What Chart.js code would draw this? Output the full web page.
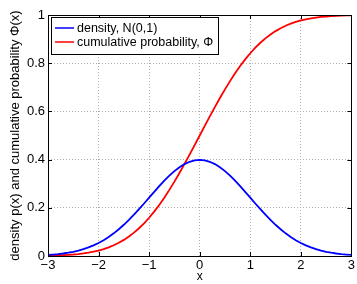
<!DOCTYPE html>
<html><head><meta charset="utf-8">
<script src="https://cdn.jsdelivr.net/npm/chart.js@4"></script>
<style>html,body{margin:0;padding:0;background:#fff}#c{display:block}</style>
</head><body>
<canvas id="c" width="357" height="284"></canvas>
<script>
const xValues = [-3.0,-2.9,-2.8,-2.7,-2.6,-2.5,-2.4,-2.3,-2.2,-2.1,-2.0,-1.9,-1.8,-1.7,-1.6,-1.5,-1.4,-1.3,-1.2,-1.1,-1.0,-0.9,-0.8,-0.7,-0.6,-0.5,-0.4,-0.3,-0.2,-0.1,0.0,0.1,0.2,0.3,0.4,0.5,0.6,0.7,0.8,0.9,1.0,1.1,1.2,1.3,1.4,1.5,1.6,1.7,1.8,1.9,2.0,2.1,2.2,2.3,2.4,2.5,2.6,2.7,2.8,2.9,3.0];
const densityValues = [0.0044,0.0060,0.0079,0.0104,0.0136,0.0175,0.0224,0.0283,0.0355,0.0440,0.0540,0.0656,0.0790,0.0940,0.1109,0.1295,0.1497,0.1714,0.1942,0.2179,0.2420,0.2661,0.2897,0.3123,0.3332,0.3521,0.3683,0.3814,0.3910,0.3970,0.3989,0.3970,0.3910,0.3814,0.3683,0.3521,0.3332,0.3123,0.2897,0.2661,0.2420,0.2179,0.1942,0.1714,0.1497,0.1295,0.1109,0.0940,0.0790,0.0656,0.0540,0.0440,0.0355,0.0283,0.0224,0.0175,0.0136,0.0104,0.0079,0.0060,0.0044];
const cumulativeValues = [0.0013,0.0019,0.0026,0.0035,0.0047,0.0062,0.0082,0.0107,0.0139,0.0179,0.0228,0.0287,0.0359,0.0446,0.0548,0.0668,0.0808,0.0968,0.1151,0.1357,0.1587,0.1841,0.2119,0.2420,0.2743,0.3085,0.3446,0.3821,0.4207,0.4602,0.5000,0.5398,0.5793,0.6179,0.6554,0.6915,0.7257,0.7580,0.7881,0.8159,0.8413,0.8643,0.8849,0.9032,0.9192,0.9332,0.9452,0.9554,0.9641,0.9713,0.9772,0.9821,0.9861,0.9893,0.9918,0.9938,0.9953,0.9965,0.9974,0.9981,0.9987];
const seriesNames = ['density, N(0,1)', 'cumulative probability, \u03A6'];
const xTickLabels = ['\u22123','\u22122','\u22121','0','1','2','3'];
const yTickLabels = ['0','0.2','0.4','0.6','0.8','1'];
const xTitle = 'x';
const yTitle = 'density p(x) and cumulative probability \u03A6(x)';

const FONT = '"Liberation Sans", Arial, Helvetica, sans-serif';
const colors = ['#0000ff', '#ff0000'];

const frame = {
  id: 'frame',
  afterDraw(chart) {
    const {ctx, chartArea: a, scales: {x, y}} = chart;
    ctx.save();
    ctx.strokeStyle = '#000';
    ctx.lineWidth = 1;
    ctx.beginPath();
    x.ticks.forEach(t => {
      const px = Math.round(x.getPixelForValue(t.value)) + 0.5;
      ctx.moveTo(px, a.bottom); ctx.lineTo(px, a.bottom - 4);
      ctx.moveTo(px, a.top); ctx.lineTo(px, a.top + 4);
    });
    y.ticks.forEach(t => {
      const py = Math.round(y.getPixelForValue(t.value)) + 0.5;
      ctx.moveTo(a.left, py); ctx.lineTo(a.left + 4, py);
      ctx.moveTo(a.right, py); ctx.lineTo(a.right - 4, py);
    });
    ctx.stroke();
    ctx.strokeRect(Math.round(a.left) + 0.5, Math.round(a.top) + 0.5, Math.round(a.right - a.left), Math.round(a.bottom - a.top));
    // legend
    ctx.font = '12.5px ' + FONT;
    const bx = a.left + 3, by = a.top + 2;
    const tw = Math.max(...seriesNames.map(s => ctx.measureText(s).width));
    const bw = Math.min(26 + tw + 5, 178), bh = 37;
    ctx.fillStyle = '#fff';
    ctx.fillRect(bx, by, bw, bh);
    ctx.strokeStyle = '#000';
    ctx.lineWidth = 1;
    ctx.strokeRect(Math.round(bx) + 0.5, Math.round(by) + 0.5, Math.round(bw), bh);
    seriesNames.forEach((s, i) => {
      const cy = by + 11 + i * 14;
      ctx.strokeStyle = colors[i];
      ctx.lineWidth = 1.5;
      ctx.beginPath(); ctx.moveTo(bx + 4, cy); ctx.lineTo(bx + 23, cy); ctx.stroke();
      ctx.fillStyle = '#000';
      ctx.textBaseline = 'middle';
      ctx.fillText(s, bx + 26, cy + 1);
    });
    ctx.restore();
  }
};

new Chart(document.getElementById('c'), {
  type: 'line',
  data: {
    datasets: [densityValues, cumulativeValues].map((vals, i) => ({
      label: seriesNames[i],
      data: xValues.map((xv, j) => ({x: xv, y: vals[j]})),
      borderColor: colors[i],
      borderWidth: 1.8,
      pointRadius: 0,
      tension: 0,
      fill: false
    }))
  },
  options: {
    responsive: false,
    animation: false,
    layout: {padding: {left: 0, right: 4, top: 15, bottom: 0}},
    plugins: {legend: {display: false}, tooltip: {enabled: false}},
    scales: {
      x: {
        type: 'linear', min: -3, max: 3,
        afterFit(s) { s.height = 28; },
        ticks: {stepSize: 1, color: '#000', padding: 2, maxRotation: 0,
          font: {family: FONT, size: 13},
          callback: (v) => xTickLabels[Math.round(v) + 3]},
        grid: {color: '#b0b0b0', drawTicks: false, lineWidth: 1},
        border: {display: false, dash: [1, 2]},
        title: {display: true, text: xTitle, color: '#000', font: {family: FONT, size: 12}, padding: {top: 0, bottom: 0}}
      },
      y: {
        type: 'linear', min: 0, max: 1,
        afterFit(s) { s.width = 48; },
        ticks: {stepSize: 0.2, color: '#000', padding: 3,
          font: {family: FONT, size: 13},
          callback: (v) => yTickLabels[Math.round(v * 5)]},
        grid: {color: '#b0b0b0', drawTicks: false, lineWidth: 1},
        border: {display: false, dash: [1, 2]},
        title: {display: true, text: yTitle, color: '#000', font: {family: FONT, size: 13}, padding: {top: 8, bottom: 0}}
      }
    }
  },
  plugins: [frame]
});
</script>
</body></html>
